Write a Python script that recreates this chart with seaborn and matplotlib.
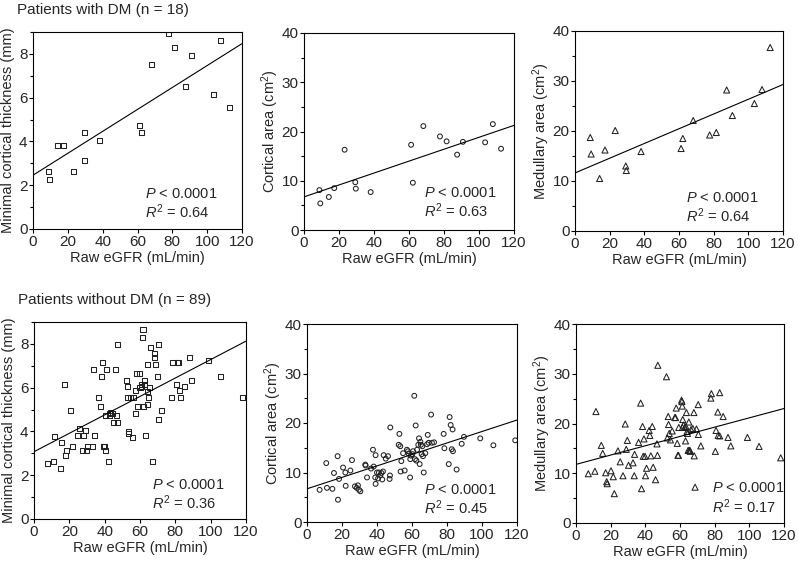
import numpy as np
import pandas as pd
import matplotlib
matplotlib.use("Agg")
import matplotlib.pyplot as plt
from matplotlib.ticker import MultipleLocator
import seaborn as sns

# data
# patients with DM (n = 18), same patients in the three top panels
dm_egfr = [8.8, 9.3, 14.2, 17.3, 23.2, 29.3, 29.6, 38.1, 61.2, 62.2,
           68.2, 77.7, 81.5, 87.5, 90.8, 103.5, 107.9, 112.6]
dm_thick = [2.64, 2.24, 3.83, 3.83, 2.64, 3.14, 4.42, 4.05, 4.73, 4.42,
            7.52, 8.92, 8.31, 6.52, 7.94, 6.14, 8.63, 5.56]
dm_cortical = [8.1, 5.4, 6.7, 8.5, 16.3, 9.7, 8.4, 7.7, 17.3, 9.6,
               21.1, 19.0, 18.0, 15.3, 17.9, 17.8, 21.5, 16.5]
dm_medullary = [18.7, 15.4, 10.5, 16.2, 20.1, 13.0, 12.1, 15.9, 16.5, 18.5,
                22.1, 19.2, 19.7, 28.2, 23.1, 25.5, 28.3, 36.7]

# patients without DM (n = 89)
nodm_thick_egfr = [7.4, 11.2, 11.4, 14.8, 15.3, 17.4, 17.8, 18.4, 20.4, 22.0,
                   24.4, 25.6, 27.3, 28.2, 29.0, 29.5, 30.5, 33.3, 33.5, 34.1,
                   36.3, 37.5, 38.0, 39.0, 39.2, 39.9, 40.3, 40.5, 41.1, 42.4,
                   43.0, 43.5, 44.3, 45.0, 46.2, 46.8, 47.0, 47.3, 52.1, 52.8,
                   53.2, 53.4, 53.4, 54.7, 55.8, 56.4, 57.2, 57.2, 58.1, 58.7,
                   59.6, 60.6, 61.1, 61.3, 61.7, 61.9, 62.3, 62.5, 63.2, 64.0,
                   64.2, 64.5, 64.9, 65.1, 66.1, 66.8, 68.0, 68.3, 68.5, 69.8,
                   70.4, 70.4, 72.1, 78.0, 78.2, 80.4, 81.0, 81.9, 82.3, 82.9,
                   85.0, 88.0, 89.2, 98.8, 105.6, 118.1, 43.0, 60.0, 39.5]
nodm_thick = [2.54, 2.63, 3.76, 2.31, 3.51, 6.14, 2.90, 3.15, 4.96, 3.33,
              3.82, 4.12, 3.13, 3.82, 4.05, 3.13, 3.33, 3.33, 6.81, 3.82,
              5.55, 5.13, 6.52, 7.13, 3.33, 3.33, 3.12, 4.75, 6.83, 2.62,
              4.75, 4.85, 4.82, 4.41, 6.83, 4.75, 4.41, 7.95, 6.34, 6.04,
              5.55, 4.00, 3.89, 5.55, 3.73, 5.55, 5.86, 4.82, 6.65, 5.13,
              6.65, 6.04, 6.13, 8.29, 8.64, 5.13, 6.34, 6.13, 3.82, 5.25,
              5.83, 7.06, 5.55, 6.02, 7.85, 2.63, 7.57, 7.39, 7.06, 6.52,
              7.95, 4.53, 4.94, 5.55, 7.13, 6.13, 7.13, 7.13, 5.86, 5.55,
              6.04, 7.36, 6.34, 7.24, 6.52, 5.55, 4.80, 6.00, 3.33]

nodm_cort_egfr = [7.2, 11.0, 11.4, 14.5, 15.4, 17.5, 17.7, 18.3, 20.6, 21.9,
                  22.1, 24.8, 25.7, 27.4, 28.4, 29.1, 29.7, 30.5, 33.3, 33.5,
                  34.3, 36.6, 37.7, 38.1, 39.2, 39.2, 39.0, 40.0, 40.6, 41.1,
                  41.9, 42.5, 43.0, 43.4, 43.8, 45.0, 46.3, 47.2, 47.4, 47.6,
                  52.8, 52.4, 53.3, 53.5, 53.9, 54.9, 55.8, 57.1, 57.7, 58.1,
                  58.9, 59.0, 59.4, 60.2, 60.6, 61.3, 61.7, 62.1, 62.5, 62.9,
                  63.6, 64.0, 64.4, 64.8, 65.1, 65.5, 65.9, 66.3, 66.7, 67.6,
                  68.6, 69.0, 69.5, 70.9, 71.4, 72.6, 78.1, 78.5, 81.0, 81.5,
                  82.1, 82.7, 83.2, 83.4, 85.5, 88.4, 89.7, 99.0, 106.5, 119.0]
nodm_cortical = [6.5, 11.9, 6.9, 6.7, 9.9, 13.3, 4.5, 8.7, 11.0, 10.0,
                 7.3, 10.4, 12.5, 7.2, 6.9, 7.4, 6.5, 6.2, 11.6, 11.4,
                 9.0, 10.8, 14.6, 11.2, 13.5, 7.7, 9.0, 10.0, 8.8, 10.0,
                 9.4, 9.9, 8.6, 10.2, 13.5, 12.8, 13.3, 8.7, 9.4, 19.1,
                 17.8, 15.6, 15.3, 10.2, 12.3, 13.9, 10.4, 14.6, 14.3, 13.8,
                 9.0, 12.7, 13.4, 13.7, 14.3, 25.5, 12.7, 19.5, 12.4, 14.6,
                 15.6, 16.9, 11.7, 16.2, 15.6, 13.7, 15.3, 13.3, 10.0, 13.9,
                 15.7, 17.6, 16.0, 21.7, 16.0, 16.1, 17.8, 14.9, 11.7, 21.2,
                 19.6, 14.7, 18.7, 14.3, 10.6, 15.8, 17.2, 16.9, 15.5, 16.5]

nodm_med_egfr = [7.1, 10.9, 11.5, 14.6, 15.4, 17.1, 17.7, 18.0, 20.2, 21.5,
                 22.1, 24.2, 25.5, 27.1, 28.4, 29.0, 29.6, 30.3, 32.9, 33.6,
                 33.8, 36.1, 37.3, 37.8, 38.4, 38.8, 39.2, 39.8, 40.1, 40.7,
                 42.2, 42.6, 43.2, 44.0, 44.5, 45.9, 46.7, 47.0, 47.2, 52.2,
                 52.7, 53.2, 53.4, 53.8, 54.5, 55.5, 57.0, 57.4, 57.8, 58.4,
                 58.8, 59.1, 59.3, 60.9, 61.1, 61.3, 61.4, 61.6, 62.0, 62.8,
                 63.2, 63.4, 63.7, 64.1, 64.3, 64.7, 65.1, 65.3, 65.7, 65.9,
                 66.4, 67.4, 68.0, 68.2, 68.7, 69.5, 70.5, 70.6, 72.0, 77.8,
                 78.1, 80.4, 80.8, 81.8, 82.0, 82.9, 82.9, 84.9, 87.7, 89.3,
                 98.9, 105.6, 118.1]
nodm_medullary = [9.9, 10.4, 22.4, 15.6, 14.0, 10.1, 8.3, 7.9, 10.5, 9.3,
                  5.9, 14.5, 12.3, 9.5, 19.9, 14.8, 16.6, 11.6, 12.1, 9.5,
                  13.8, 16.2, 24.1, 6.9, 19.4, 13.4, 16.9, 13.4, 9.5, 11.0,
                  18.6, 17.6, 13.5, 19.4, 11.2, 8.7, 15.9, 13.6, 31.7, 29.4,
                  17.1, 21.4, 19.8, 18.0, 16.7, 18.5, 21.2, 21.2, 23.1, 16.0,
                  13.6, 13.6, 19.2, 24.7, 24.4, 23.5, 19.2, 20.8, 19.7, 19.2,
                  16.5, 19.4, 22.2, 18.4, 18.0, 14.6, 20.3, 14.6, 14.6, 14.4,
                  18.8, 19.0, 22.2, 13.5, 7.2, 18.9, 23.8, 17.8, 15.5, 25.1,
                  26.0, 14.4, 18.6, 22.3, 17.6, 26.2, 17.5, 21.4, 17.2, 15.5,
                  17.2, 15.4, 13.1]

sns.set_style("ticks")
plt.rcParams["font.family"] = ["Liberation Sans", "DejaVu Sans"]
plt.rcParams["mathtext.fontset"] = "custom"
plt.rcParams["mathtext.rm"] = "Liberation Sans"
plt.rcParams["mathtext.it"] = "Liberation Sans:italic"

fig = plt.figure(figsize=(7.98, 5.64), dpi=100)

# axes boxes in pixels: left, top, right, bottom
boxes = [(33, 32, 242, 229), (304, 33, 514, 230), (575, 31, 783, 231),
         (34, 322, 246, 519), (307, 324, 517, 522), (576, 324, 784, 523)]

panels = [
    (dm_egfr, dm_thick, "s", 9, "Minimal cortical thickness (mm)", "0.64", (0.537, 0.178)),
    (dm_egfr, dm_cortical, "o", 40, "Cortical area (cm$^2$)", "0.63", (0.573, 0.187)),
    (dm_egfr, dm_medullary, "^", 40, "Medullary area (cm$^2$)", "0.64", (0.533, 0.167)),
    (nodm_thick_egfr, nodm_thick, "s", 9, "Minimal cortical thickness (mm)", "0.36", (0.555, 0.171)),
    (nodm_cort_egfr, nodm_cortical, "o", 40, "Cortical area (cm$^2$)", "0.45", (0.556, 0.162)),
    (nodm_med_egfr, nodm_medullary, "^", 40, "Medullary area (cm$^2$)", "0.17", (0.656, 0.174)),
]
marker_size = {"s": 13, "o": 12, "^": 19}

W, H = 798, 564
for (l, t, r, b), (xs, ys, mk, ymax, ylab, r2, (tx, ty)) in zip(boxes, panels):
    ax = fig.add_axes([l / W, (H - b) / H, (r - l) / W, (b - t) / H])
    ax.set_xlim(0, 120)
    ax.set_ylim(0, ymax)
    df = pd.DataFrame({"egfr": xs, "val": ys})
    sns.regplot(data=df, x="egfr", y="val", ax=ax, ci=None, truncate=False,
                marker=mk,
                scatter_kws=dict(facecolors="none", edgecolors="#222222",
                                 s=marker_size[mk], linewidths=0.75, alpha=1),
                line_kws=dict(color="black", lw=0.8))
    ax.set_xlim(0, 120)
    ax.set_ylim(0, ymax)
    ax.xaxis.set_major_locator(MultipleLocator(20))
    if ymax == 9:
        ax.yaxis.set_major_locator(MultipleLocator(2))
        ax.yaxis.set_minor_locator(MultipleLocator(1))
    else:
        ax.yaxis.set_major_locator(MultipleLocator(10))
        ax.yaxis.set_minor_locator(MultipleLocator(5))
    for sp in ax.spines.values():
        sp.set_visible(True)
        sp.set_linewidth(0.8)
        sp.set_color("black")
    ax.tick_params(which="major", direction="out", length=3, width=0.8,
                   labelsize=11, pad=1, color="black")
    ax.tick_params(which="minor", direction="out", length=2.5, width=0.8, color="black")
    ax.set_xlabel("Raw eGFR (mL/min)", fontsize=10.5, labelpad=2)
    ax.set_ylabel(ylab, fontsize=10.5, labelpad=3 if ymax == 9 else 0.5)
    ax.text(tx, ty, "$P$ < 0.0001", transform=ax.transAxes, ha="left",
            va="center", fontsize=10.5)
    ax.text(tx, ty - 0.09, "$R^2$ = " + r2, transform=ax.transAxes, ha="left",
            va="center", fontsize=10.5)

fig.text(17 / W, 1 - 10 / H, "Patients with DM (n = 18)", ha="left", va="center", fontsize=11)
fig.text(18 / W, 1 - 300 / H, "Patients without DM (n = 89)", ha="left", va="center", fontsize=11)

fig.savefig("out.png", dpi=100, facecolor="white")
